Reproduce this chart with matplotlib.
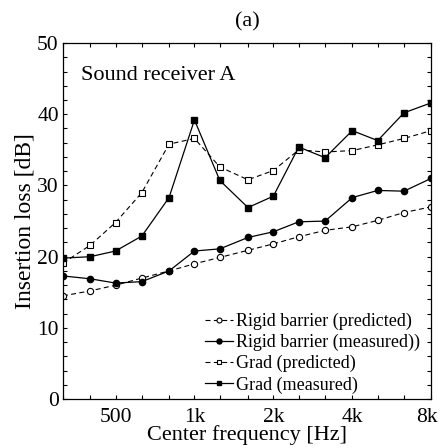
import numpy as np
from matplotlib import pyplot as plt
from matplotlib.ticker import FixedLocator, NullFormatter, MultipleLocator
from matplotlib.transforms import ScaledTranslation

plt.rcParams['font.family'] = ['Liberation Serif', 'DejaVu Serif']

# 1/3 octave centre frequencies
freq = [315, 400, 500, 630, 800, 1000, 1250, 1600, 2000, 2500, 3150, 4000, 5000, 6300, 8000]

rigid_pred = [14.5, 15.2, 16.0, 17.0, 18.0, 19.0, 19.9, 20.9, 21.8, 22.8, 23.7, 24.2, 25.1, 26.2, 27.0]
rigid_meas = [17.3, 16.9, 16.3, 16.5, 18.0, 20.8, 21.1, 22.7, 23.5, 24.9, 25.0, 28.3, 29.3, 29.2, 31.0]
grad_pred = [19.1, 21.6, 24.8, 29.0, 35.8, 36.6, 32.6, 30.8, 32.1, 35.0, 34.7, 34.9, 35.7, 36.6, 37.7]
grad_meas = [19.8, 20.0, 20.8, 22.9, 28.3, 39.2, 30.7, 26.9, 28.5, 35.4, 33.9, 37.7, 36.3, 40.2, 41.6]

xticks = [500, 1000, 2000, 4000, 8000]
xticklabels = ['500', '1k', '2k', '4k', '8k']

fig = plt.figure(figsize=(4.4, 4.48), dpi=100)
ax = fig.add_axes([0.143, 0.109, 0.837, 0.795])

dash = (0, (4.5, 3))
ax.plot(freq, rigid_pred, color='black', lw=0.8, linestyle=dash, marker='o', ms=4.5,
        mfc='white', mec='black', mew=0.8, label='Rigid barrier (predicted)')
ax.plot(freq, rigid_meas, color='black', lw=0.9, marker='o', ms=4.5,
        mfc='black', mec='black', label='Rigid barrier (measured))')
ax.plot(freq, grad_pred, color='black', lw=0.8, linestyle=dash, marker='s', ms=4,
        mfc='white', mec='black', mew=0.8, label='Grad (predicted)')
ax.plot(freq, grad_meas, color='black', lw=0.9, marker='s', ms=4.3,
        mfc='black', mec='black', label='Grad (measured)')

ax.set_xscale('log')
ax.set_xlim(315, 8000)
ax.set_ylim(0, 50)
ax.xaxis.set_major_locator(FixedLocator(xticks))
ax.set_xticklabels(xticklabels)
ax.xaxis.set_minor_locator(FixedLocator(freq))
ax.xaxis.set_minor_formatter(NullFormatter())
ax.yaxis.set_major_locator(MultipleLocator(10))
ax.yaxis.set_minor_locator(MultipleLocator(2))
ax.tick_params(which='both', direction='in', top=True, right=True, length=3, width=0.8,
               labelsize=15.5)
ax.tick_params(axis='x', pad=6)
ax.tick_params(axis='y', pad=3)
for s in ax.spines.values():
    s.set_linewidth(0.9)

# keep the last label (8k) inside the figure
last = ax.get_xticklabels()[-1]
last.set_transform(last.get_transform() + ScaledTranslation(-4 / 100, 0, fig.dpi_scale_trans))

ax.set_xlabel('Center frequency [Hz]', fontsize=16, labelpad=-1)
ax.set_ylabel('Insertion loss [dB]', fontsize=17, labelpad=1)
ax.set_title('(a)', fontsize=16, pad=12)
ax.text(0.05, 0.935, 'Sound receiver A', transform=ax.transAxes, fontsize=16,
        va='top', ha='left')

ax.legend(loc='lower left', bbox_to_anchor=(0.37, 0.0), frameon=False, fontsize=13,
          handlelength=1.6, handletextpad=0.15, labelspacing=0.22, borderpad=0.2,
          borderaxespad=0.1, markerscale=0.8)

fig.savefig('out.png', dpi=100)
